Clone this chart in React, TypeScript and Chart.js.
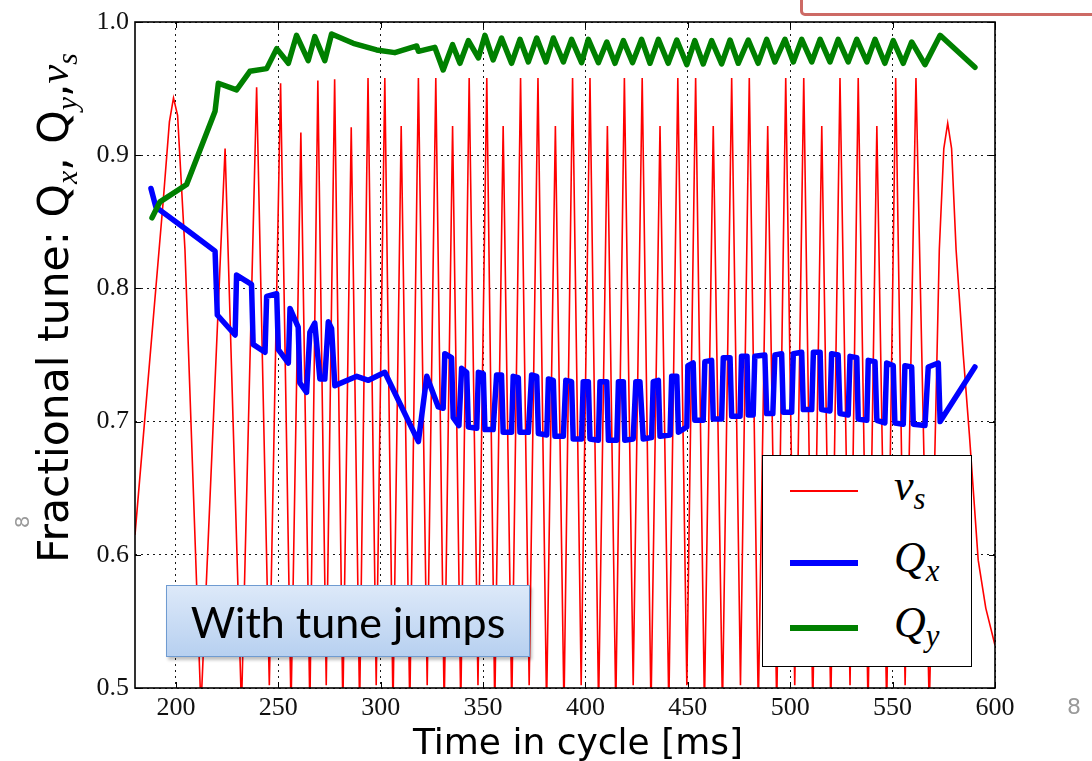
import React, { useEffect, useRef } from 'react';
import { Chart, registerables } from 'chart.js';

Chart.register(...registerables);

// Synchrotron tune nu_s: time in cycle [ms] and fractional tune
const nuTimes = [
  180, 193.8, 196.8, 198.8, 200.8, 204.4, 212.2,
  224.0, 232.0, 239.4, 245.6, 251.1, 256.2, 261.0, 265.4, 269.3, 273.4, 277.5, 281.5,
  285.6, 289.7, 293.8, 297.8, 302.0, 306.0, 310.0, 314.2, 318.4, 322.7, 326.9, 331.0,
  335.1, 339.1, 343.2, 347.5, 351.8, 355.7, 359.8, 364.0, 368.3, 372.5, 376.8, 381.0,
  385.3, 389.5, 393.7, 397.9, 402.2, 406.4, 410.7, 414.8, 419.0, 423.3, 427.7, 432.0,
  436.4, 440.7, 445.1, 449.5, 453.8, 458.1, 462.4, 466.9, 471.4, 475.7, 480.0, 484.4,
  489.0, 493.4, 497.8, 502.2, 506.6, 511.0, 515.4, 519.8, 524.3, 529.2, 533.2, 538.0,
  542.3, 547.1, 551.5, 556.1, 561.4, 567.9,
  572.8, 575.0, 576.9, 578.8, 581.0, 584.5, 587.5, 591.8, 595.5, 600,
];
const nuValues = [
  0.615, 0.866, 0.925, 0.943, 0.93, 0.829, 0.485,
  0.905, 0.485, 0.951, 0.502, 0.954, 0.485, 0.917, 0.485, 0.956, 0.502, 0.957, 0.485,
  0.921, 0.485, 0.958, 0.502, 0.958, 0.485, 0.922, 0.485, 0.958, 0.502, 0.958, 0.485,
  0.922, 0.485, 0.958, 0.502, 0.958, 0.485, 0.922, 0.485, 0.958, 0.502, 0.958, 0.485,
  0.922, 0.485, 0.958, 0.502, 0.958, 0.485, 0.922, 0.485, 0.958, 0.502, 0.958, 0.485,
  0.922, 0.485, 0.958, 0.502, 0.958, 0.485, 0.922, 0.485, 0.958, 0.502, 0.958, 0.485,
  0.922, 0.485, 0.958, 0.502, 0.958, 0.485, 0.922, 0.485, 0.958, 0.502, 0.958, 0.485,
  0.922, 0.485, 0.958, 0.502, 0.958, 0.485,
  0.829, 0.905, 0.924, 0.905, 0.829, 0.75, 0.69, 0.596, 0.56, 0.532,
];

// Horizontal tune Q_x
const qxTimes = [
  187.8, 190.2, 205.2, 219.1, 220.2, 228.9, 229.6, 236.9, 237.7, 243.5, 244.3, 249.2,
  250.0, 254.9, 255.7, 259.7, 260.5, 263.8, 265.4, 267.8, 270.3, 272.7, 274.4, 276.0,
  277.6, 288.3, 294.0, 302.0, 318.4, 322.5, 328.1, 330.5, 331.3, 334.6, 335.4, 338.2,
  339.5, 342.0, 342.8, 346.9, 347.7, 350.1, 350.9, 354.9, 356.6, 359.0, 359.8, 363.9,
  364.7, 367.2, 368.0, 372.1, 373.7, 376.2, 377.0, 381.1, 381.9, 384.3, 385.1, 389.2,
  390.4, 393.2, 394.0, 398.1, 398.9, 401.4, 402.2, 406.3, 407.1, 410.4, 411.2, 415.3,
  416.1, 418.5, 419.2, 423.3, 424.6, 426.6, 428.2, 432.3, 433.1, 435.6, 436.4, 441.3,
  442.1, 444.6, 445.4, 449.5, 450.0, 452.6, 453.4, 457.5, 458.3, 461.6, 462.4, 466.5,
  467.3, 470.6, 471.4, 475.5, 476.2, 478.9, 479.5, 481.9, 482.7, 487.6, 488.5, 491.5,
  492.5, 495.8, 496.6, 500.7, 501.5, 505.6, 506.4, 510.5, 511.3, 514.6, 515.3, 519.4,
  520.2, 523.4, 524.3, 528.3, 529.2, 532.5, 533.2, 537.4, 538.1, 541.4, 542.3, 546.2,
  547.1, 550.3, 551.1, 555.2, 556.0, 559.3, 560.1, 565.8, 567.4, 572.3, 573.2, 590.2,
];
const qxValues = [
  0.875, 0.861, 0.844, 0.828, 0.780, 0.765, 0.810, 0.803, 0.758, 0.752, 0.794, 0.796,
  0.754, 0.744, 0.785, 0.771, 0.729, 0.722, 0.767, 0.774, 0.732, 0.732, 0.775, 0.770,
  0.727, 0.734, 0.731, 0.737, 0.685, 0.734, 0.711, 0.710, 0.751, 0.748, 0.703, 0.697,
  0.740, 0.737, 0.696, 0.695, 0.737, 0.736, 0.694, 0.694, 0.735, 0.735, 0.692, 0.692,
  0.734, 0.733, 0.692, 0.692, 0.735, 0.734, 0.691, 0.690, 0.732, 0.731, 0.689, 0.689,
  0.731, 0.730, 0.687, 0.687, 0.730, 0.730, 0.687, 0.686, 0.730, 0.730, 0.686, 0.686,
  0.730, 0.730, 0.686, 0.687, 0.730, 0.730, 0.687, 0.688, 0.730, 0.731, 0.689, 0.690,
  0.734, 0.734, 0.692, 0.696, 0.742, 0.744, 0.701, 0.701, 0.745, 0.746, 0.702, 0.702,
  0.748, 0.748, 0.704, 0.704, 0.749, 0.749, 0.705, 0.705, 0.749, 0.750, 0.706, 0.706,
  0.750, 0.751, 0.707, 0.707, 0.751, 0.752, 0.709, 0.709, 0.752, 0.752, 0.709, 0.708,
  0.751, 0.750, 0.706, 0.705, 0.749, 0.748, 0.702, 0.701, 0.746, 0.745, 0.701, 0.699,
  0.744, 0.742, 0.699, 0.698, 0.742, 0.741, 0.698, 0.697, 0.741, 0.744, 0.700, 0.741,
];

// Vertical tune Q_y
const qyTimes = [
  188.3, 192.2, 205.2, 219.1, 220.7, 229.6, 236.1, 244.3, 249.2, 254.9, 258.9, 264.6,
  267.8, 272.7, 276.0, 286.6, 298.0, 306.9, 317.6, 318.4, 326.4, 330.5, 335.1, 338.7,
  342.8, 347.7, 350.9, 354.9, 359.0, 363.9, 368.0, 372.1, 376.2, 380.7, 384.3, 389.2,
  393.2, 398.1, 401.4, 406.3, 410.4, 414.4, 418.5, 423.0, 427.4, 431.5, 435.6, 440.4,
  444.6, 449.5, 453.4, 457.5, 461.6, 466.5, 470.6, 474.6, 479.5, 484.3, 488.5, 492.5,
  497.4, 501.5, 505.6, 510.5, 514.6, 519.4, 523.4, 528.3, 532.5, 537.4, 541.4, 546.2,
  550.3, 555.2, 559.3, 565.8, 573.2, 590.2,
];
const qyValues = [
  0.853, 0.865, 0.878, 0.933, 0.954, 0.949, 0.963, 0.965, 0.980, 0.969, 0.990, 0.971,
  0.989, 0.971, 0.991, 0.984, 0.979, 0.977, 0.982, 0.978, 0.981, 0.964, 0.983, 0.969,
  0.986, 0.973, 0.990, 0.9715, 0.988, 0.969, 0.987, 0.970, 0.988, 0.970, 0.988, 0.970,
  0.987, 0.9695, 0.987, 0.9695, 0.985, 0.969, 0.986, 0.9695, 0.987, 0.969, 0.987, 0.969,
  0.9865, 0.968, 0.986, 0.9685, 0.986, 0.9685, 0.9865, 0.969, 0.9865, 0.969, 0.987, 0.970,
  0.987, 0.970, 0.987, 0.970, 0.987, 0.970, 0.987, 0.970, 0.987, 0.970, 0.987, 0.969,
  0.986, 0.969, 0.985, 0.968, 0.990, 0.966,
];

const xTickValues = [200, 250, 300, 350, 400, 450, 500, 550, 600];
const yTickValues = [0.5, 0.6, 0.7, 0.8, 0.9, 1.0];

const points = (t: number[], v: number[]) => t.map((x, i) => ({ x, y: v[i] }));

const serif = '"Liberation Serif", "DejaVu Serif", serif';
const sans = '"DejaVu Sans", "Liberation Sans", sans-serif';

// Axes frame with inward tick marks on all four sides
const framePlugin = {
  id: 'frame',
  afterDatasetsDraw(chart: any) {
    const { ctx, chartArea: a, scales } = chart;
    ctx.save();
    ctx.strokeStyle = '#000';
    ctx.lineWidth = 1;
    const tl = 6;
    ctx.beginPath();
    xTickValues.forEach((v) => {
      const x = Math.round(scales.x.getPixelForValue(v)) + 0.5;
      ctx.moveTo(x, a.bottom);
      ctx.lineTo(x, a.bottom - tl);
      ctx.moveTo(x, a.top);
      ctx.lineTo(x, a.top + tl);
    });
    yTickValues.forEach((v) => {
      const y = Math.round(scales.y.getPixelForValue(v)) + 0.5;
      ctx.moveTo(a.left, y);
      ctx.lineTo(a.left + tl, y);
      ctx.moveTo(a.right, y);
      ctx.lineTo(a.right - tl, y);
    });
    ctx.stroke();
    ctx.lineWidth = 1.6;
    ctx.strokeRect(a.left, a.top, a.right - a.left, a.bottom - a.top);
    ctx.restore();
  },
};

export default function App() {
  const canvasRef = useRef<HTMLCanvasElement>(null);

  useEffect(() => {
    const canvas = canvasRef.current;
    if (!canvas) return;
    const chart = new Chart(canvas, {
      type: 'line',
      data: {
        datasets: [
          {
            label: 'Q_y',
            data: points(qyTimes, qyValues),
            borderColor: '#008000',
            borderWidth: 5.5,
            borderJoinStyle: 'round',
            borderCapStyle: 'round',
            pointRadius: 0,
            tension: 0,
          },
          {
            label: 'Q_x',
            data: points(qxTimes, qxValues),
            borderColor: '#0000ff',
            borderWidth: 5.5,
            borderJoinStyle: 'round',
            borderCapStyle: 'round',
            pointRadius: 0,
            tension: 0,
          },
          {
            label: 'nu_s',
            data: points(nuTimes, nuValues),
            borderColor: '#ff0000',
            borderWidth: 1.6,
            pointRadius: 0,
            tension: 0,
          },
        ],
      },
      options: {
        responsive: false,
        animation: false,
        devicePixelRatio: 1,
        events: [],
        parsing: false,
        normalized: true,
        layout: { padding: { left: 0, top: 22, right: 97, bottom: 0 } },
        plugins: {
          legend: { display: false },
          tooltip: { enabled: false },
        },
        scales: {
          x: {
            type: 'linear',
            min: 180,
            max: 600,
            afterBuildTicks: (s: any) => {
              s.ticks = xTickValues.map((value) => ({ value }));
            },
            afterFit: (s: any) => {
              s.height = 73;
            },
            ticks: {
              padding: 5,
              color: '#111',
              font: { family: serif, size: 26 },
              maxRotation: 0,
              callback: (v: any) => String(v),
            },
            grid: { color: 'rgba(0,0,0,0.9)', lineWidth: 1, drawTicks: false },
            border: { display: false, dash: [2, 4] },
          },
          y: {
            type: 'linear',
            min: 0.5,
            max: 1.0,
            afterBuildTicks: (s: any) => {
              s.ticks = yTickValues.map((value) => ({ value }));
            },
            afterFit: (s: any) => {
              s.width = 135;
            },
            ticks: {
              padding: 6,
              color: '#111',
              font: { family: serif, size: 26 },
              callback: (v: any) => Number(v).toFixed(1),
            },
            grid: { color: 'rgba(0,0,0,0.9)', lineWidth: 1, drawTicks: false },
            border: { display: false, dash: [2, 4] },
          },
        },
      },
      plugins: [framePlugin],
    } as any);
    return () => chart.destroy();
  }, []);

  const mathItalic: React.CSSProperties = {
    fontFamily: '"Liberation Serif", serif',
    fontStyle: 'italic',
  };
  const subStyle: React.CSSProperties = {
    fontFamily: '"Liberation Serif", serif',
    fontStyle: 'italic',
    fontSize: '0.7em',
    position: 'relative',
    top: '0.3em',
  };

  const legendRow = (top: number, color: string, width: number, sym: string, sub: string) => (
    <div style={{ position: 'absolute', left: 0, top, width: '100%', height: 0 }}>
      <div
        style={{
          position: 'absolute',
          left: 27,
          top: -width / 2,
          width: 68,
          height: width,
          background: color,
        }}
      />
      <div
        style={{
          position: 'absolute',
          left: 131,
          top: -30,
          fontSize: 44,
          lineHeight: '50px',
          whiteSpace: 'nowrap',
          color: '#000',
          ...mathItalic,
        }}
      >
        {sym}
        <span style={subStyle}>{sub}</span>
      </div>
    </div>
  );

  return (
    <div
      style={{
        position: 'absolute',
        left: 0,
        top: 0,
        width: 1092,
        height: 761,
        background: '#fff',
        overflow: 'hidden',
      }}
    >
      <canvas
        ref={canvasRef}
        width={1092}
        height={761}
        style={{ position: 'absolute', left: 0, top: 0, width: 1092, height: 761 }}
      />

      {/* y-axis title */}
      <div
        style={{
          position: 'absolute',
          left: 53,
          top: 308,
          transform: 'translate(-50%, -50%) rotate(-90deg)',
          whiteSpace: 'nowrap',
          fontFamily: sans,
          fontSize: 42.5,
          color: '#000',
        }}
      >
        Fractional tune: Q<span style={subStyle}>x</span>, Q<span style={subStyle}>y</span>,
        <span style={mathItalic}>ν</span>
        <span style={subStyle}>s</span>
      </div>

      {/* x-axis title */}
      <div
        style={{
          position: 'absolute',
          left: 578,
          top: 741,
          transform: 'translate(-50%, -50%)',
          whiteSpace: 'nowrap',
          fontFamily: sans,
          fontSize: 36,
          color: '#000',
        }}
      >
        Time in cycle [ms]
      </div>

      {/* legend */}
      <div
        style={{
          position: 'absolute',
          left: 762,
          top: 455,
          width: 208,
          height: 210,
          border: '1.5px solid #000',
          background: '#fff',
        }}
      >
        {legendRow(35, '#ff0000', 1.6, 'ν', 's')}
        {legendRow(107, '#0000ff', 5.5, 'Q', 'x')}
        {legendRow(172, '#008000', 5.5, 'Q', 'y')}
      </div>

      {/* annotation box */}
      <div
        style={{
          position: 'absolute',
          left: 166,
          top: 585,
          width: 364,
          height: 72,
          boxSizing: 'border-box',
          border: '1.5px solid #6f9bd1',
          background: 'linear-gradient(#dde9f9, #b7d0f0)',
          boxShadow: '2px 3px 3px rgba(0,0,0,0.25)',
          display: 'flex',
          alignItems: 'center',
          justifyContent: 'center',
          fontFamily: 'Lato, "Open Sans", sans-serif',
          fontSize: 43,
          color: '#000',
          whiteSpace: 'nowrap',
        }}
      >
        With tune jumps
      </div>

      {/* slide decorations */}
      <div
        style={{
          position: 'absolute',
          left: 800,
          top: -20,
          width: 320,
          height: 30,
          border: '3px solid #cd6a65',
          borderRadius: 5,
        }}
      />
      <div
        style={{
          position: 'absolute',
          left: 22,
          top: 522,
          transform: 'translate(-50%, -50%) rotate(-90deg)',
          fontFamily: sans,
          fontSize: 20,
          color: '#999',
        }}
      >
        8
      </div>
      <div
        style={{
          position: 'absolute',
          left: 1074,
          top: 706,
          transform: 'translate(-50%, -50%)',
          fontFamily: sans,
          fontSize: 22,
          color: '#999',
        }}
      >
        8
      </div>
    </div>
  );
}
